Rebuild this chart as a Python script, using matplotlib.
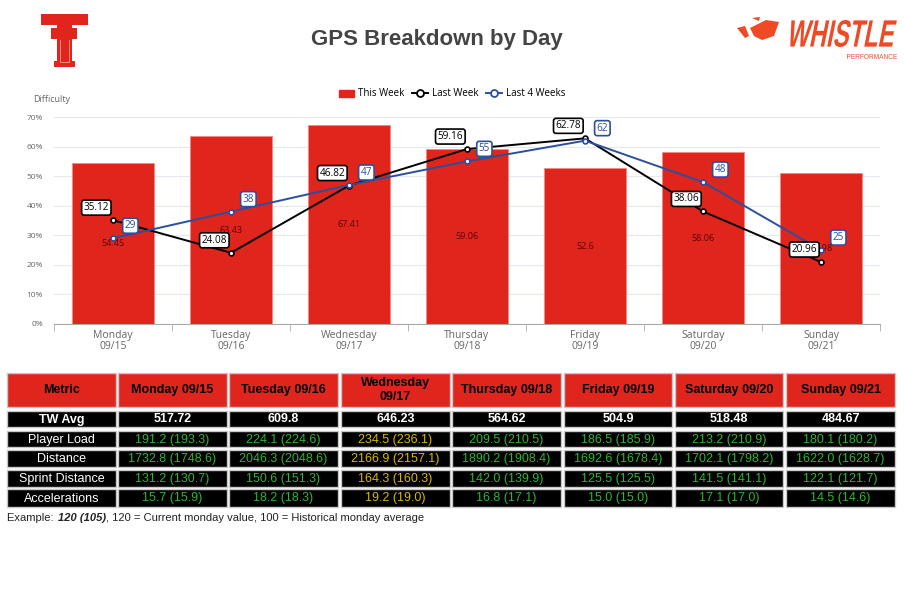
import numpy as np
import matplotlib
matplotlib.use("Agg")
import matplotlib.pyplot as plt
from matplotlib.patches import Rectangle, Polygon, PathPatch
from matplotlib.lines import Line2D
from matplotlib.textpath import TextPath
from matplotlib.font_manager import FontProperties
from matplotlib.transforms import Affine2D

days = ["Monday", "Tuesday", "Wednesday", "Thursday", "Friday", "Saturday", "Sunday"]
dates = ["09/15", "09/16", "09/17", "09/18", "09/19", "09/20", "09/21"]
this_week = [54.45, 63.43, 67.41, 59.06, 52.6, 58.06, 50.98]
last_week = [35.12, 24.08, 46.82, 59.16, 62.78, 38.06, 20.96]
last_4_weeks = [29, 38, 47, 55, 62, 48, 25]

metrics = ["Player Load", "Distance", "Sprint Distance", "Accelerations"]
tw_avg = ["517.72", "609.8", "646.23", "564.62", "504.9", "518.48", "484.67"]
player_load = ["191.2 (193.3)", "224.1 (224.6)", "234.5 (236.1)", "209.5 (210.5)",
               "186.5 (185.9)", "213.2 (210.9)", "180.1 (180.2)"]
distance = ["1732.8 (1748.6)", "2046.3 (2048.6)", "2166.9 (2157.1)", "1890.2 (1908.4)",
            "1692.6 (1678.4)", "1702.1 (1798.2)", "1622.0 (1628.7)"]
sprint_distance = ["131.2 (130.7)", "150.6 (151.3)", "164.3 (160.3)", "142.0 (139.9)",
                   "125.5 (125.5)", "141.5 (141.1)", "122.1 (121.7)"]
accelerations = ["15.7 (15.9)", "18.2 (18.3)", "19.2 (19.0)", "16.8 (17.1)",
                 "15.0 (15.0)", "17.1 (17.0)", "14.5 (14.6)"]
above_avg = [False, False, True, False, False, False, False]

RED = "#e0261c"
BLUE = "#2b4e9e"
GREEN = "#2fb52f"
GOLD = "#d8b800"
GREY = "#666666"
ORANGE = "#ef4a25"

fig = plt.figure(figsize=(9.05, 5.98), dpi=100)

# ---- chart ----
ax = fig.add_axes([54 / 905, 1 - 324 / 598, 826 / 905, 207 / 598])
x = np.arange(len(days))
ax.bar(x, this_week, width=0.70, color=RED, edgecolor="#f08a84", linewidth=0.6, zorder=2)
for xi, v in zip(x, this_week):
    ax.text(xi, v / 2, f"{v:g}", ha="center", va="center", fontsize=6.5,
            color="#5a0000", family="Open Sans", zorder=3)

ax.plot(x, last_week, color="black", lw=1.4, marker="o", ms=3.5, mfc="white",
        mec="black", mew=1.2, zorder=4)
ax.plot(x, last_4_weeks, color=BLUE, lw=1.4, marker="o", ms=3.5, mfc="white",
        mec=BLUE, mew=1.2, zorder=4)

for xi, v in zip(x, last_week):
    ax.annotate(f"{v:.2f}", (xi, v), xytext=(-12, 9), textcoords="offset points",
                ha="center", va="center", fontsize=7.2, family="Open Sans", color="black",
                bbox=dict(boxstyle="round,pad=0.2,rounding_size=0.25", fc="white",
                          ec="black", lw=1.2), zorder=6)
for xi, v in zip(x, last_4_weeks):
    ax.annotate(f"{v:g}", (xi, v), xytext=(12.5, 9), textcoords="offset points",
                ha="center", va="center", fontsize=7.2, family="Open Sans", color=BLUE,
                bbox=dict(boxstyle="round,pad=0.2,rounding_size=0.25", fc="white",
                          ec=BLUE, lw=1.2), zorder=6)

ax.set_xlim(-0.5, len(days) - 0.5)
ax.set_ylim(0, 70)
ax.set_yticks(np.arange(0, 71, 10))
ax.set_yticklabels([f"{t}%" for t in range(0, 71, 10)], fontsize=6, color=GREY,
                   family="Open Sans")
ax.set_xticks(x)
ax.set_xticklabels([f"{d}\n{dt}" for d, dt in zip(days, dates)], fontsize=7.5,
                   color=GREY, family="Open Sans", linespacing=1.0)
ax.set_xticks(np.arange(-0.5, len(days), 1.0), minor=True)
ax.tick_params(axis="x", which="major", length=0, pad=4)
ax.tick_params(axis="x", which="minor", length=5, color="#aaaaaa")
ax.tick_params(axis="y", length=0, pad=8)
ax.grid(axis="y", color="#e4e9f0", lw=0.8, zorder=0)
ax.set_axisbelow(True)
for s in ["top", "right", "left"]:
    ax.spines[s].set_visible(False)
ax.spines["bottom"].set_color("#aaaaaa")

fig.text(33 / 905, 1 - 99 / 598, "Difficulty", fontsize=6.5, color=GREY,
         family="Open Sans", va="center")

handles = [
    Rectangle((0, 0), 1, 1, color=RED),
    Line2D([], [], color="black", lw=1.4, marker="o", ms=5, mfc="white", mec="black", mew=1.3),
    Line2D([], [], color=BLUE, lw=1.4, marker="o", ms=5, mfc="white", mec=BLUE, mew=1.3),
]
fig.legend(handles, ["This Week", "Last Week", "Last 4 Weeks"], loc="center",
           bbox_to_anchor=(452 / 905, 1 - 94 / 598), ncol=3, frameon=False,
           prop={"family": "Open Sans", "size": 7}, handlelength=1.6,
           handletextpad=0.4, columnspacing=0.8)

fig.text(437 / 905, 1 - 40 / 598, "GPS Breakdown by Day", fontsize=16, fontweight="bold",
         color="#444444", family="Liberation Sans", ha="center", va="center")

# ---- overlay in pixel coordinates: logos + table ----
ov = fig.add_axes([0, 0, 1, 1], zorder=-1)
ov.set_xlim(0, 905)
ov.set_ylim(598, 0)
ov.axis("off")

# double T logo
for (x0, y0, w, h) in [(41, 14, 47, 11), (57, 25, 15, 3), (51, 28, 26, 11),
                       (57, 39, 15, 24), (54, 61, 21, 6)]:
    ov.add_patch(Rectangle((x0, y0), w, h, color=RED, lw=0))
ov.plot([60, 60, 69, 69], [40, 62, 62, 40], color="#f3a09a", lw=0.6)


def fitted_text(s, left, top, width, height, slant, weight="normal"):
    tp = TextPath((0, 0), s, size=10, prop=FontProperties(family="Liberation Sans",
                                                          weight=weight))
    ext = tp.get_extents()
    tr = (Affine2D().translate(-ext.x0, -ext.y0)
          .scale(width / ext.width, height / ext.height)
          .skew(slant, 0)
          .scale(1, -1)
          .translate(left, top + height))
    ov.add_patch(PathPatch(tr.transform_path(tp), color=ORANGE, lw=0))


# whistle logo
fitted_text("WHISTLE", 786, 20, 106, 27, 0.2, weight="bold")
fitted_text("PERFORMANCE", 847, 54, 50, 5, 0.0)
ov.add_patch(Polygon([[750, 28], [766, 20], [779, 22], [774, 36], [762, 40], [754, 36]],
                     closed=True, color=ORANGE, lw=0))
ov.add_patch(Polygon([[737, 28], [745, 26], [749, 36], [745, 38]], closed=True,
                     color=ORANGE, lw=0))
ov.add_patch(Polygon([[752, 18], [760, 17], [759, 21]], closed=True, color=ORANGE, lw=0))

col_l = [7, 118, 229, 341, 452, 564, 675, 786]
col_r = [116, 227, 338, 450, 561, 672, 783, 895]
row_t = [373, 411, 431, 450, 470, 489]
row_b = [407, 427, 447, 467, 487, 507]

header = ["Metric"] + [f"{d} {dt}" if d != "Wednesday" else f"{d}\n{dt}"
                       for d, dt in zip(days, dates)]
body = [["TW Avg"] + tw_avg]
for name, vals in zip(metrics, [player_load, distance, sprint_distance, accelerations]):
    body.append([name] + vals)


def cell(r, c, fc):
    ov.add_patch(Rectangle((col_l[c], row_t[r]), col_r[c] - col_l[c], row_b[r] - row_t[r],
                           fc=fc, ec="#c8c8c8", lw=1.0))


for c, txt in enumerate(header):
    cell(0, c, RED)
    ov.text((col_l[c] + col_r[c]) / 2, (row_t[0] + row_b[0]) / 2, txt, ha="center",
            va="center", fontsize=9, fontweight="bold", color="black",
            family="Liberation Sans", linespacing=1.15)

for r, row in enumerate(body, start=1):
    for c, txt in enumerate(row):
        cell(r, c, "black")
        if r == 1:
            color, weight = "white", "bold"
        elif c == 0:
            color, weight = "white", "normal"
        else:
            color = GOLD if above_avg[c - 1] else GREEN
            weight = "normal"
        ov.text((col_l[c] + col_r[c]) / 2, (row_t[r] + row_b[r]) / 2 + 0.5, txt,
                ha="center", va="center", fontsize=9, fontweight=weight, color=color,
                family="Liberation Sans")

fig.text(7 / 905, 1 - 518 / 598, "Example: ", fontsize=8, family="Liberation Sans",
         color="#222222", va="center")
ov.annotate("120 (105)", xy=(58, 518), fontsize=8, family="Liberation Sans",
            fontweight="bold", style="italic", color="#222222", va="center")
ov.annotate(", 120 = Current monday value, 100 = Historical monday average", xy=(106, 518),
            fontsize=8, family="Liberation Sans", color="#222222", va="center")

fig.savefig("out.png", dpi=100)
